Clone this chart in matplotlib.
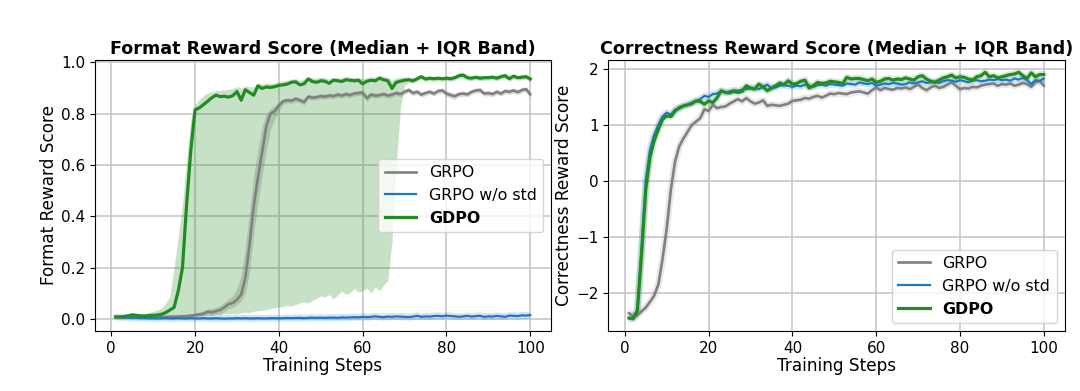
import numpy as np
import matplotlib
matplotlib.use("Agg")
import matplotlib.pyplot as plt

steps = list(range(1, 101))
labels = ["GRPO", "GRPO w/o std", "GDPO"]

# ---------------- Format reward (left) ----------------
fmt_gdpo = [0.008, 0.008, 0.009, 0.012, 0.016, 0.014, 0.012, 0.011, 0.013, 0.014,
            0.015, 0.018, 0.025, 0.035, 0.045, 0.11, 0.20, 0.45, 0.66, 0.815,
            0.822, 0.835, 0.848, 0.862, 0.872, 0.866, 0.868, 0.864, 0.870, 0.886,
            0.852, 0.893, 0.882, 0.872, 0.908, 0.898, 0.904, 0.902, 0.905, 0.910,
            0.912, 0.915, 0.922, 0.924, 0.912, 0.916, 0.935, 0.925, 0.922, 0.928,
            0.926, 0.918, 0.930, 0.928, 0.925, 0.932, 0.930, 0.928, 0.930, 0.916,
            0.926, 0.930, 0.928, 0.938, 0.932, 0.928, 0.898, 0.922, 0.926, 0.930,
            0.932, 0.928, 0.936, 0.944, 0.935, 0.938, 0.936, 0.938, 0.936, 0.938,
            0.936, 0.940, 0.948, 0.950, 0.940, 0.938, 0.942, 0.938, 0.940, 0.940,
            0.942, 0.938, 0.944, 0.948, 0.936, 0.946, 0.940, 0.942, 0.944, 0.935]
fmt_gdpo_hi = [0.012, 0.012, 0.014, 0.018, 0.022, 0.022, 0.020, 0.022, 0.026, 0.030,
               0.035, 0.042, 0.060, 0.090, 0.20, 0.32, 0.45, 0.62, 0.78, 0.835,
               0.855, 0.870, 0.880, 0.885, 0.890, 0.890, 0.892, 0.895, 0.898, 0.905,
               0.900, 0.908, 0.905, 0.905, 0.918, 0.915, 0.918, 0.918, 0.920, 0.925,
               0.928, 0.930, 0.935, 0.936, 0.930, 0.935, 0.945, 0.940, 0.938, 0.942,
               0.940, 0.935, 0.942, 0.940, 0.940, 0.945, 0.942, 0.940, 0.942, 0.935,
               0.940, 0.944, 0.942, 0.950, 0.945, 0.942, 0.930, 0.940, 0.942, 0.942,
               0.942, 0.938, 0.945, 0.952, 0.944, 0.946, 0.945, 0.946, 0.944, 0.947,
               0.945, 0.950, 0.958, 0.960, 0.950, 0.946, 0.950, 0.947, 0.949, 0.949,
               0.951, 0.947, 0.953, 0.957, 0.945, 0.955, 0.949, 0.951, 0.952, 0.944]
fmt_gdpo_lo = [0.004, 0.004, 0.005, 0.006, 0.008, 0.007, 0.006, 0.006, 0.007, 0.007,
               0.007, 0.008, 0.008, 0.008, 0.008, 0.008, 0.008, 0.009, 0.010, 0.012,
               0.012, 0.014, 0.015, 0.014, 0.018, 0.016, 0.020, 0.019, 0.022, 0.020,
               0.024, 0.026, 0.025, 0.030, 0.032, 0.034, 0.036, 0.040, 0.044, 0.046,
               0.048, 0.052, 0.050, 0.056, 0.062, 0.066, 0.062, 0.072, 0.080, 0.090,
               0.085, 0.095, 0.078, 0.092, 0.108, 0.096, 0.102, 0.118, 0.104, 0.110,
               0.120, 0.100, 0.125, 0.110, 0.132, 0.150, 0.300, 0.600, 0.820, 0.910,
               0.922, 0.918, 0.926, 0.934, 0.925, 0.928, 0.926, 0.928, 0.926, 0.928,
               0.926, 0.930, 0.938, 0.938, 0.930, 0.928, 0.932, 0.928, 0.930, 0.930,
               0.932, 0.928, 0.934, 0.938, 0.926, 0.936, 0.930, 0.932, 0.934, 0.925]

fmt_grpo = [0.006, 0.006, 0.006, 0.006, 0.007, 0.006, 0.006, 0.006, 0.007, 0.007,
            0.007, 0.007, 0.007, 0.008, 0.008, 0.009, 0.010, 0.011, 0.013, 0.015,
            0.018, 0.020, 0.028, 0.026, 0.030, 0.035, 0.045, 0.058, 0.062, 0.075,
            0.095, 0.16, 0.29, 0.44, 0.55, 0.65, 0.75, 0.80, 0.81, 0.832,
            0.848, 0.852, 0.850, 0.858, 0.852, 0.845, 0.866, 0.862, 0.864, 0.868,
            0.866, 0.870, 0.868, 0.874, 0.870, 0.876, 0.872, 0.878, 0.880, 0.882,
            0.860, 0.874, 0.870, 0.872, 0.876, 0.870, 0.874, 0.880, 0.876, 0.885,
            0.892, 0.880, 0.885, 0.874, 0.880, 0.885, 0.878, 0.888, 0.890, 0.878,
            0.872, 0.868, 0.876, 0.878, 0.875, 0.885, 0.890, 0.892, 0.878, 0.880,
            0.876, 0.885, 0.878, 0.888, 0.885, 0.890, 0.884, 0.892, 0.895, 0.875]
fmt_grpo_hi = [0.009, 0.009, 0.009, 0.009, 0.010, 0.009, 0.009, 0.009, 0.010, 0.010,
               0.010, 0.010, 0.011, 0.012, 0.012, 0.013, 0.015, 0.017, 0.020, 0.024,
               0.028, 0.032, 0.040, 0.040, 0.046, 0.052, 0.065, 0.080, 0.090, 0.120,
               0.170, 0.280, 0.420, 0.560, 0.660, 0.750, 0.800, 0.820, 0.830, 0.845,
               0.858, 0.862, 0.860, 0.868, 0.862, 0.856, 0.876, 0.872, 0.874, 0.878,
               0.876, 0.880, 0.878, 0.884, 0.880, 0.886, 0.882, 0.888, 0.890, 0.892,
               0.872, 0.884, 0.880, 0.882, 0.886, 0.880, 0.884, 0.890, 0.886, 0.895,
               0.902, 0.890, 0.895, 0.885, 0.890, 0.895, 0.888, 0.898, 0.900, 0.890,
               0.884, 0.880, 0.886, 0.888, 0.885, 0.895, 0.900, 0.902, 0.888, 0.890,
               0.886, 0.895, 0.888, 0.898, 0.895, 0.900, 0.894, 0.902, 0.905, 0.888]
fmt_grpo_lo = [0.003, 0.003, 0.003, 0.003, 0.004, 0.003, 0.003, 0.003, 0.004, 0.004,
               0.004, 0.004, 0.004, 0.005, 0.005, 0.005, 0.006, 0.006, 0.007, 0.008,
               0.010, 0.011, 0.016, 0.015, 0.018, 0.020, 0.028, 0.040, 0.045, 0.055,
               0.070, 0.100, 0.180, 0.330, 0.450, 0.560, 0.660, 0.740, 0.780, 0.810,
               0.836, 0.842, 0.840, 0.846, 0.842, 0.834, 0.856, 0.852, 0.854, 0.858,
               0.856, 0.860, 0.858, 0.864, 0.860, 0.866, 0.862, 0.868, 0.870, 0.872,
               0.848, 0.864, 0.860, 0.862, 0.866, 0.860, 0.864, 0.870, 0.866, 0.875,
               0.882, 0.870, 0.875, 0.864, 0.870, 0.875, 0.868, 0.878, 0.880, 0.866,
               0.860, 0.856, 0.866, 0.868, 0.865, 0.875, 0.880, 0.882, 0.868, 0.870,
               0.866, 0.875, 0.868, 0.878, 0.875, 0.880, 0.874, 0.882, 0.885, 0.862]

fmt_nostd = [0.008, 0.007, 0.006, 0.005, 0.004, 0.004, 0.003, 0.003, 0.002, 0.002,
             0.002, 0.002, 0.003, 0.002, 0.002, 0.003, 0.002, 0.002, 0.003, 0.002,
             0.002, 0.003, 0.002, 0.002, 0.003, 0.002, 0.001, 0.002, 0.002, 0.003,
             0.002, 0.003, 0.002, 0.002, 0.003, 0.002, 0.002, 0.003, 0.003, 0.002,
             0.003, 0.004, 0.003, 0.004, 0.004, 0.003, 0.004, 0.005, 0.004, 0.005,
             0.004, 0.005, 0.005, 0.004, 0.006, 0.005, 0.006, 0.007, 0.006, 0.008,
             0.007, 0.008, 0.010, 0.008, 0.007, 0.009, 0.008, 0.010, 0.009, 0.008,
             0.007, 0.009, 0.012, 0.008, 0.010, 0.009, 0.011, 0.012, 0.010, 0.013,
             0.011, 0.010, 0.008, 0.010, 0.012, 0.009, 0.011, 0.012, 0.008, 0.010,
             0.009, 0.012, 0.010, 0.008, 0.013, 0.012, 0.011, 0.014, 0.013, 0.015]

# ---------------- Correctness reward (right) ----------------
cor_gdpo = [-2.45, -2.46, -2.32, -1.30, -0.15, 0.42, 0.72, 0.92, 1.10, 1.16,
            1.15, 1.25, 1.31, 1.34, 1.36, 1.38, 1.43, 1.42, 1.37, 1.43,
            1.40, 1.48, 1.61, 1.58, 1.57, 1.60, 1.58, 1.60, 1.70, 1.66,
            1.64, 1.73, 1.68, 1.61, 1.66, 1.70, 1.75, 1.72, 1.79, 1.73,
            1.74, 1.78, 1.80, 1.66, 1.70, 1.76, 1.74, 1.75, 1.78, 1.77,
            1.76, 1.74, 1.85, 1.82, 1.83, 1.83, 1.81, 1.79, 1.82, 1.76,
            1.78, 1.82, 1.83, 1.80, 1.82, 1.81, 1.84, 1.82, 1.80, 1.86,
            1.88, 1.82, 1.78, 1.76, 1.80, 1.84, 1.86, 1.89, 1.84, 1.86,
            1.85, 1.82, 1.80, 1.86, 1.88, 1.94, 1.86, 1.88, 1.84, 1.86,
            1.88, 1.90, 1.91, 1.94, 1.88, 1.83, 1.93, 1.86, 1.90, 1.90]
cor_nostd = [-2.45, -2.45, -2.30, -1.20, 0.00, 0.55, 0.82, 1.00, 1.15, 1.22,
             1.18, 1.27, 1.29, 1.34, 1.36, 1.40, 1.42, 1.46, 1.52, 1.50,
             1.55, 1.56, 1.60, 1.58, 1.60, 1.62, 1.61, 1.63, 1.64, 1.65,
             1.66, 1.64, 1.68, 1.72, 1.65, 1.67, 1.70, 1.71, 1.70, 1.68,
             1.70, 1.69, 1.72, 1.70, 1.68, 1.71, 1.72, 1.70, 1.73, 1.72,
             1.71, 1.70, 1.74, 1.73, 1.72, 1.76, 1.74, 1.73, 1.75, 1.70,
             1.72, 1.74, 1.73, 1.75, 1.74, 1.72, 1.73, 1.76, 1.74, 1.76,
             1.78, 1.75, 1.76, 1.77, 1.75, 1.78, 1.80, 1.79, 1.77, 1.80,
             1.78, 1.76, 1.79, 1.80, 1.78, 1.79, 1.81, 1.80, 1.82, 1.80,
             1.81, 1.79, 1.83, 1.81, 1.84, 1.80, 1.73, 1.80, 1.78, 1.83]
cor_grpo = [-2.36, -2.42, -2.40, -2.33, -2.26, -2.16, -2.05, -1.85, -1.40, -0.85,
            -0.15, 0.35, 0.62, 0.76, 0.88, 1.00, 1.06, 1.12, 1.28, 1.25,
            1.36, 1.30, 1.32, 1.33, 1.38, 1.42, 1.46, 1.42, 1.48, 1.42,
            1.38, 1.40, 1.44, 1.34, 1.36, 1.35, 1.34, 1.36, 1.38, 1.43,
            1.44, 1.45, 1.48, 1.47, 1.50, 1.52, 1.49, 1.52, 1.56, 1.55,
            1.57, 1.56, 1.55, 1.58, 1.59, 1.60, 1.58, 1.56, 1.62, 1.67,
            1.62, 1.66, 1.64, 1.63, 1.66, 1.65, 1.67, 1.64, 1.68, 1.72,
            1.66, 1.62, 1.67, 1.70, 1.66, 1.68, 1.72, 1.76, 1.70, 1.64,
            1.66, 1.65, 1.68, 1.67, 1.70, 1.72, 1.73, 1.74, 1.70, 1.73,
            1.72, 1.74, 1.70, 1.72, 1.75, 1.73, 1.68, 1.76, 1.79, 1.70]

C_GRPO = "gray"
C_NOSTD = "#1f77c4"
C_GDPO = "forestgreen"

fig = plt.figure(figsize=(10.8, 3.91), dpi=100)
axL = fig.add_axes([0.0877, 0.1535, 0.4225, 0.6931])
axR = fig.add_axes([0.5632, 0.1535, 0.4225, 0.6931])

TITLE_FS = 12.6
LABEL_FS = 12.2
TICK_FS = 11
LEG_FS = 11.4


def style(ax, title, ylabel):
    ax.set_title(title, fontsize=TITLE_FS, fontweight="bold", pad=5)
    ax.set_xlabel("Training Steps", fontsize=LABEL_FS, labelpad=1)
    ax.set_ylabel(ylabel, fontsize=LABEL_FS, labelpad=2)
    ax.tick_params(labelsize=TICK_FS)
    ax.grid(True, color="#c8c8c8", linewidth=1.2)
    ax.set_axisbelow(True)


# left
axL.fill_between(steps, fmt_grpo_lo, fmt_grpo_hi, color=C_GRPO, alpha=0.3, linewidth=0)
axL.fill_between(steps, fmt_gdpo_lo, fmt_gdpo_hi, color=C_GDPO, alpha=0.25, linewidth=0)
axL.plot(steps, fmt_nostd, color=C_NOSTD, lw=5, alpha=0.2, solid_capstyle="butt")
axL.plot(steps, fmt_grpo, color=C_GRPO, lw=1.9, label=labels[0])
axL.plot(steps, fmt_nostd, color=C_NOSTD, lw=1.6, label=labels[1])
axL.plot(steps, fmt_gdpo, color=C_GDPO, lw=2.3, label=labels[2])
style(axL, "Format Reward Score (Median + IQR Band)", "Format Reward Score")
axL.set_ylim(-0.047, 1.009)
axL.set_yticks([0.0, 0.2, 0.4, 0.6, 0.8, 1.0])
legL = axL.legend(loc="center right", fontsize=LEG_FS)
legL.get_texts()[2].set_fontweight("bold")

# right
for series, c in ((cor_grpo, C_GRPO), (cor_nostd, C_NOSTD), (cor_gdpo, C_GDPO)):
    axR.plot(steps, series, color=c, lw=5, alpha=0.18, solid_capstyle="butt")
axR.plot(steps, cor_grpo, color=C_GRPO, lw=1.9, label=labels[0])
axR.plot(steps, cor_nostd, color=C_NOSTD, lw=1.6, label=labels[1])
axR.plot(steps, cor_gdpo, color=C_GDPO, lw=2.3, label=labels[2])
style(axR, "Correctness Reward Score (Median + IQR Band)", "Correctness Reward Score")
legR = axR.legend(loc="lower right", fontsize=LEG_FS)
legR.get_texts()[2].set_fontweight("bold")

fig.savefig("out.png", dpi=100)
